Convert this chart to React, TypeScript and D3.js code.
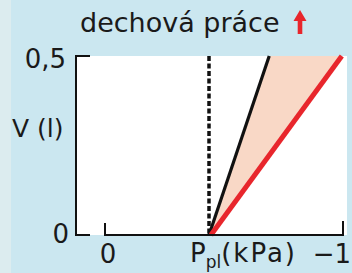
import React from "react";
import * as d3 from "d3";

// ---- data (schematic values) ----
const xDomain = [0, -1]; // Ppl (kPa)
const yDomain = [0, 0.5]; // V (l)
const xTickLabels = ["0", "−1"];
const yTickLabels = ["0", "0,5"];
const pplRest = -0.437; // dashed vertical reference
const blackLine = [
  { p: -0.437, v: 0 },
  { p: -0.69, v: 0.5 },
];
const redLine = [
  { p: -0.445, v: 0 },
  { p: -0.995, v: 0.5 },
];
const titleText = "dechová práce";
const yLabel = "V (l)";

const W = 352;
const H = 273;
const FONT = "'DejaVu Sans', sans-serif";

export default function App() {
  const x = d3.scaleLinear().domain(xDomain).range([105, 343]);
  const y = d3.scaleLinear().domain(yDomain).range([235, 56]);
  const line = d3
    .line<{ p: number; v: number }>()
    .x((d) => x(d.p))
    .y((d) => y(d.v));
  const area = [blackLine[0], blackLine[1], redLine[1], redLine[0]];
  const areaPath =
    "M" + area.map((d) => `${x(d.p)},${y(d.v)}`).join("L") + "Z";

  return (
    <svg
      width={W}
      height={H}
      style={{ position: "absolute", left: 0, top: 0, display: "block" }}
    >
      <rect x={0} y={0} width={W} height={H} fill="#cbe7f0" />
      <rect x={0} y={0} width={11} height={H} fill="#dcecef" />
      {/* plot area */}
      <rect x={76} y={y(0.5)} width={271} height={y(0) - y(0.5)} fill="#ffffff" />
      {/* title */}
      <text x={80} y={32} fontFamily={FONT} fontSize={27} fill="#1a1a1a">
        {titleText}
      </text>
      {/* red arrow */}
      <path d="M300,10 L306.5,21 L302.3,21 L302.3,34 L297.7,34 L297.7,21 L293.5,21 Z" fill="#e8262c" />
      {/* pink work area */}
      <path d={areaPath} fill="#f9d8c6" />
      {/* dashed line */}
      <line
        x1={x(pplRest)}
        x2={x(pplRest)}
        y1={y(0.5)}
        y2={y(0)}
        stroke="#111"
        strokeWidth={3.5}
        strokeDasharray="5,2.5"
      />
      <path d={line(blackLine) || ""} stroke="#111" strokeWidth={3.2} fill="none" />
      <path d={line(redLine) || ""} stroke="#e8262c" strokeWidth={5} fill="none" />
      {/* y axis */}
      <path
        d={`M90,${y(0.5)}H76V${y(0)}H90`}
        stroke="#111"
        strokeWidth={2}
        fill="none"
      />
      {/* x axis */}
      <path
        d={`M${x(0)},${y(0) - 12}V${y(0)}H${x(-1)}V${y(0) - 14}`}
        stroke="#111"
        strokeWidth={2}
        fill="none"
      />
      {/* y tick labels */}
      <text x={69} y={243} textAnchor="end" fontFamily={FONT} fontSize={26} fill="#1a1a1a">
        {yTickLabels[0]}
      </text>
      <text x={66} y={68} textAnchor="end" fontFamily={FONT} fontSize={26} fill="#1a1a1a">
        {yTickLabels[1]}
      </text>
      <text x={12} y={137} fontFamily={FONT} fontSize={25} fill="#1a1a1a">
        {yLabel}
      </text>
      {/* x tick labels */}
      <text x={x(0) + 3} y={263} textAnchor="middle" fontFamily={FONT} fontSize={26} fill="#1a1a1a">
        {xTickLabels[0]}
      </text>
      <text x={190} y={262} fontFamily={FONT} fontSize={26} fill="#1a1a1a">
        <tspan>P</tspan>
        <tspan fontSize={17} dy={6}>pl</tspan>
        <tspan dy={-6} letterSpacing={2}>(kPa)</tspan>
      </text>
      <text x={351} y={263} textAnchor="end" fontFamily={FONT} fontSize={26} fill="#1a1a1a">
        {xTickLabels[1]}
      </text>
    </svg>
  );
}
